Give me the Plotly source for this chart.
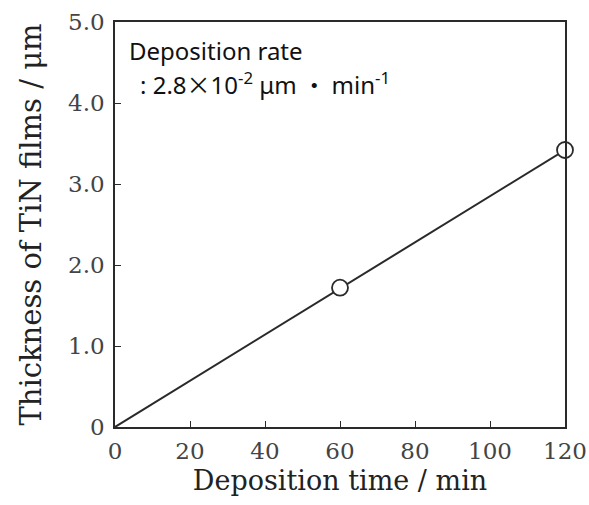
import plotly.graph_objects as go

fit_x = [0, 120]
fit_y = [0, 3.42]
time_min = [60, 120]
thickness_um = [1.72, 3.42]
x_ticks = [0, 20, 40, 60, 80, 100, 120]
y_ticks = [0, 1, 2, 3, 4, 5]
y_tick_labels = ["0", "1.0", "2.0", "3.0", "4.0", "5.0"]

serif = "DejaVu Serif"
ink = "#2a2a2a"
cjk = "font-family:'Noto Sans CJK JP'"

fig = go.Figure()
fig.add_trace(go.Scatter(x=fit_x, y=fit_y, mode="lines",
                         line=dict(color=ink, width=2), showlegend=False, cliponaxis=False))
fig.add_trace(go.Scatter(x=time_min, y=thickness_um, mode="markers",
                         marker=dict(symbol="circle", size=16, color="white",
                                     line=dict(color=ink, width=1.8)),
                         showlegend=False, cliponaxis=False))

fig.update_layout(
    width=589, height=505,
    margin=dict(l=115, r=24, t=22, b=78),
    paper_bgcolor="white", plot_bgcolor="white",
    font=dict(family=serif, color="#333333"),
    xaxis=dict(range=[0, 120], tickvals=x_ticks, ticks="inside", ticklen=6,
               tickcolor=ink, showline=True, linecolor=ink, linewidth=1.5,
               mirror=True, showgrid=False, zeroline=False, ticklabelstandoff=3,
               automargin=False,
               tickfont=dict(family=serif, size=23, color="#444444"),
               title=dict(text="Deposition time / min", font=dict(family=serif, size=27, color="#222222"),
                          standoff=8)),
    yaxis=dict(range=[0, 5], tickvals=y_ticks, ticktext=y_tick_labels, ticks="inside",
               ticklen=6, tickcolor=ink, showline=True, linecolor=ink, linewidth=1.5,
               mirror=True, showgrid=False, zeroline=False, ticklabelstandoff=4,
               automargin=False,
               tickfont=dict(family=serif, size=23, color="#444444"),
               title=dict(text="Thickness of TiN films / μm", font=dict(family=serif, size=29, color="#222222"),
                          standoff=18)),
    annotations=[
        dict(x=0.027, y=0.93, xref="paper", yref="paper", xanchor="left", yanchor="middle",
             showarrow=False, align="left", text="Deposition rate",
             font=dict(family="Noto Sans", size=24, color="#111111")),
        dict(x=0.05, y=0.848, xref="paper", yref="paper", xanchor="left", yanchor="middle",
             showarrow=False, align="left",
             text=(": 2.8<span style=\"" + cjk + "\">×</span>10<sup>-2</sup> μm"
                   "<span style=\"" + cjk + "\"> ・ </span>min<sup>-1</sup>"),
             font=dict(family="Noto Sans", size=24, color="#111111")),
    ],
)

fig.write_html("out.html")
